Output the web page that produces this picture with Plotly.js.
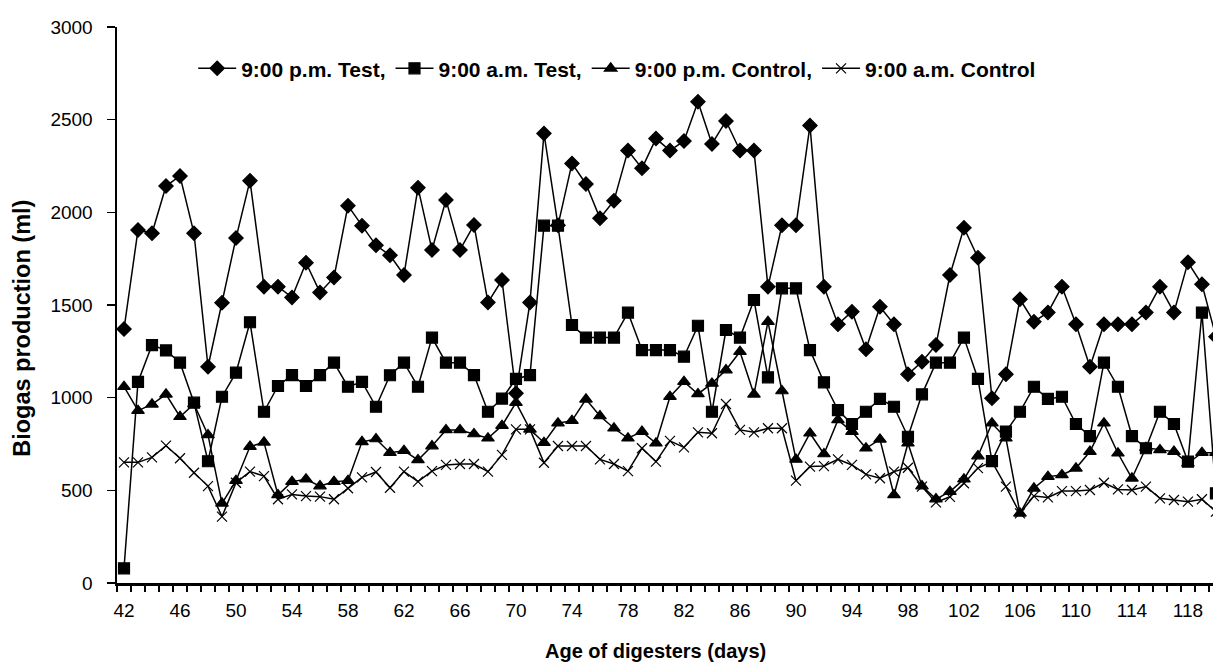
<!DOCTYPE html>
<html>
<head>
<meta charset="utf-8">
<script src="https://cdn.plot.ly/plotly-3.0.1.min.js"></script>
<style>html,body{margin:0;padding:0;background:#fff;}#chart{width:1213px;height:664px;}</style>
</head>
<body>
<div id="chart"></div>
<script>
const days = [42,43,44,45,46,47,48,49,50,51,52,53,54,55,56,57,58,59,60,61,62,63,64,65,66,67,68,69,70,71,72,73,74,75,76,77,78,79,80,81,82,83,84,85,86,87,88,89,90,91,92,93,94,95,96,97,98,99,100,101,102,103,104,105,106,107,108,109,110,111,112,113,114,115,116,117,118,119,120];

const pmTest = [1370,1905,1887,2142,2196,1887,1167,1512,1861,2171,1599,1599,1541,1728,1568,1649,2036,1928,1822,1768,1662,2133,1797,2067,1797,1932,1514,1635,1024,1514,2426,1930,2264,2153,1968,2063,2333,2238,2398,2333,2385,2597,2369,2493,2333,2333,1599,1930,1930,2468,1599,1396,1464,1261,1491,1396,1126,1194,1284,1662,1917,1755,997,1126,1531,1410,1460,1599,1396,1167,1396,1396,1396,1460,1599,1460,1730,1612,1329];

const amTest = [79,1085,1284,1255,1189,973,657,1005,1135,1407,924,1063,1122,1063,1122,1189,1059,1085,951,1121,1189,1059,1324,1189,1189,1122,924,995,1101,1122,1928,1928,1392,1324,1324,1324,1459,1257,1257,1257,1221,1388,924,1365,1324,1527,1110,1590,1590,1257,1083,933,858,924,993,951,789,1018,1189,1189,1324,1101,658,817,924,1059,993,1005,858,793,1189,1059,793,727,924,858,655,1459,484];

const pmControl = [1059,930,964,1018,897,966,799,430,552,736,759,475,547,560,523,547,552,762,777,703,714,664,739,826,826,804,781,849,973,829,757,862,876,991,901,835,781,817,754,1005,1086,1020,1077,1149,1248,1018,1410,1036,667,808,696,880,817,727,775,475,754,523,453,493,560,685,862,781,376,511,574,583,619,709,862,700,565,730,718,709,646,703,703];

const amControl = [651,651,678,741,673,595,523,358,541,601,577,452,478,469,466,452,511,570,599,514,601,547,604,637,642,642,601,691,829,829,649,739,739,739,667,642,604,727,655,767,732,813,808,966,826,813,835,835,552,628,631,667,637,586,565,601,622,520,435,465,538,620,655,520,376,469,462,496,496,502,541,505,502,520,457,448,439,452,385];

const seriesNames = ['9:00 p.m. Test,', '9:00 a.m. Test,', '9:00 p.m. Control,', '9:00 a.m. Control'];
const xTickVals = [42,46,50,54,58,62,66,70,74,78,82,86,90,94,98,102,106,110,114,118];
const xTitle = 'Age of digesters (days)';
const yTitle = 'Biogas production (ml)';

const font = 'Liberation Sans, Arial, sans-serif';
function tr(y, name, symbol, size) {
  return {
    x: days, y: y, name: name, type: 'scatter', mode: 'lines+markers',
    line: {color: '#000', width: 1.5},
    marker: {symbol: symbol, size: size, color: '#000', line: {color: '#000', width: 1.2}}
  };
}
const data = [
  tr(pmTest, seriesNames[0], 'diamond', 11),
  tr(amTest, seriesNames[1], 'square', 11),
  tr(pmControl, seriesNames[2], 'triangle-up', 11),
  tr(amControl, seriesNames[3], 'x-thin-open', 10)
];

const layout = {
  width: 1213, height: 664,
  margin: {l: 117, r: 0, t: 27, b: 81},
  paper_bgcolor: '#fff', plot_bgcolor: '#fff',
  font: {family: font, color: '#000', size: 19},
  showlegend: true,
  legend: {orientation: 'h', x: 0.0695, xanchor: 'left', y: 0.925, yanchor: 'middle',
    font: {family: font, size: 21, weight: 'bold'}, bgcolor: 'rgba(0,0,0,0)',
    itemwidth: 38, tracegroupgap: 0},
  xaxis: {
    range: [41.5, 119.79], showgrid: false, zeroline: false,
    showline: true, linecolor: '#000', linewidth: 2.5,
    tickmode: 'array', tickvals: xTickVals, ticktext: xTickVals.map(String),
    ticks: 'outside', ticklen: 9, tickcolor: 'rgba(0,0,0,0)',
    tickfont: {family: font, size: 19},
    minor: {ticks: 'outside', ticklen: 6, tickwidth: 1.5, tickcolor: '#000', dtick: 1, tick0: 41.5, showgrid: false}
  },
  yaxis: {
    range: [0, 3000], dtick: 500, showgrid: false, zeroline: false,
    showline: true, linecolor: '#000', linewidth: 2.5,
    ticks: 'outside', ticklen: 8, tickwidth: 1.5, tickcolor: '#000',
    ticklabelstandoff: 10,
    tickfont: {family: font, size: 19}
  },
  annotations: [
    {text: xTitle, xref: 'paper', yref: 'paper', x: 0.491, y: -0.1223, xanchor: 'center', yanchor: 'middle',
     showarrow: false, font: {family: font, size: 20, weight: 'bold'}},
    {text: yTitle, xref: 'paper', yref: 'paper', x: -0.0867, y: 0.459, xanchor: 'center', yanchor: 'middle',
     textangle: -90, showarrow: false, font: {family: font, size: 23.5, weight: 'bold'}}
  ]
};
Plotly.newPlot('chart', data, layout, {displayModeBar: false, staticPlot: true});
</script>
</body>
</html>
